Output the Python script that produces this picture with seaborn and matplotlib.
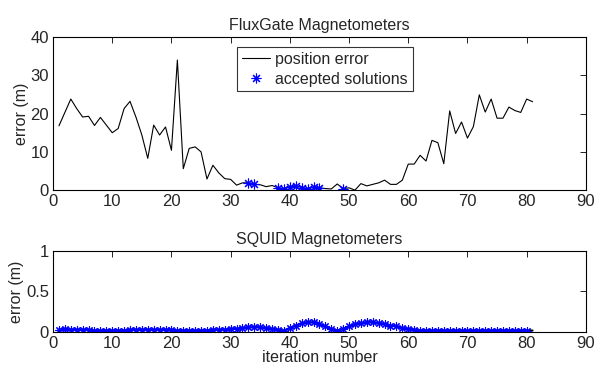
import numpy as np
import pandas as pd
import matplotlib
matplotlib.use('Agg')
import matplotlib.pyplot as plt
import seaborn as sns

# FluxGate position error per iteration (1..81)
flux_iter = list(range(1, 82))
flux_err = [16.8, 20.3, 23.8, 21.3, 19.1, 19.3, 16.9, 19.0, 17.0, 15.0,
            16.1, 21.3, 23.2, 19.1, 14.4, 8.3, 17.0, 14.4, 16.5, 10.4,
            34.0, 5.6, 10.9, 11.3, 10.0, 2.9, 6.5, 4.5, 3.0, 2.8,
            1.3, 1.9, 1.9, 1.5, 1.4, 0.9, 1.2, 0.6, 0.2, 0.9,
            1.2, 0.6, 0.4, 0.7, 0.6, 0.4, 0.3, 1.6, 0.4, 0.6,
            0.0, 1.7, 1.1, 1.5, 1.9, 2.6, 1.5, 1.5, 2.6, 6.8,
            6.8, 9.1, 7.6, 13.0, 12.4, 6.9, 20.7, 14.8, 17.8, 13.6,
            16.6, 24.9, 20.4, 23.8, 18.8, 18.8, 21.7, 20.8, 20.3, 23.8,
            23.1]
flux_accepted = [33, 34, 38, 39, 40, 41, 42, 43, 44, 45, 49]

# SQUID position error per iteration (1..81)
squid_iter = list(range(1, 82))
squid_err = [0.03, 0.04, 0.03, 0.03, 0.03, 0.03, 0.02, 0.02, 0.02, 0.02,
             0.02, 0.02, 0.03, 0.03, 0.03, 0.03, 0.03, 0.03, 0.03, 0.03,
             0.02, 0.02, 0.02, 0.02, 0.02, 0.02, 0.03, 0.03, 0.03, 0.04,
             0.04, 0.05, 0.06, 0.06, 0.06, 0.05, 0.04, 0.03, 0.02, 0.05,
             0.08, 0.11, 0.12, 0.12, 0.10, 0.07, 0.04, 0.02, 0.04, 0.07,
             0.10, 0.11, 0.12, 0.12, 0.11, 0.10, 0.08, 0.07, 0.05, 0.04,
             0.03, 0.02, 0.02, 0.02, 0.02, 0.02, 0.02, 0.02, 0.02, 0.02,
             0.02, 0.02, 0.02, 0.02, 0.02, 0.02, 0.02, 0.02, 0.02, 0.02,
             0.02]
squid_accepted = list(range(1, 81))

flux = pd.DataFrame({'iteration': flux_iter, 'error': flux_err})
flux_acc = flux[flux['iteration'].isin(flux_accepted)]
squid = pd.DataFrame({'iteration': squid_iter, 'error': squid_err})
squid_acc = squid[squid['iteration'].isin(squid_accepted)]

sns.set_theme(style='white')
plt.rcParams['font.family'] = ['Liberation Sans', 'DejaVu Sans']
plt.rcParams['font.size'] = 11

fig = plt.figure(figsize=(5.96, 3.67), dpi=100)
ax1 = fig.add_axes([0.089, 0.482, 0.894, 0.417])
ax2 = fig.add_axes([0.089, 0.095, 0.894, 0.222])

star = (8, 2, 0)

# Top: FluxGate
sns.lineplot(data=flux, x='iteration', y='error', ax=ax1, color='black',
             linewidth=0.8, label='position error')
ax1.plot(flux_acc['iteration'], flux_acc['error'], linestyle='none',
         marker=star, markersize=7, color='blue', markeredgewidth=0.8,
         label='accepted solutions')
ax1.set_xlim(0, 90)
ax1.set_ylim(0, 40)
ax1.set_xticks(range(0, 91, 10))
ax1.set_yticks(range(0, 41, 10))
ax1.set_title('FluxGate Magnetometers', fontsize=11.5, pad=5)
ax1.set_xlabel('')
ax1.set_ylabel('error (m)', fontsize=11.5, labelpad=1)
leg = ax1.legend(loc='upper center', bbox_to_anchor=(0.51, 0.935),
                 frameon=True, fancybox=False, edgecolor='black',
                 fontsize=11.5, handlelength=1.8, handletextpad=0.3,
                 borderpad=0.3, labelspacing=0.3, borderaxespad=0)
leg.get_frame().set_linewidth(0.8)

# Bottom: SQUID
sns.lineplot(data=squid, x='iteration', y='error', ax=ax2, color='black',
             linewidth=1.5)
ax2.plot(squid_acc['iteration'], squid_acc['error'], linestyle='-',
         linewidth=1.2, marker=star, markersize=6, color='blue',
         markeredgewidth=0.8)
ax2.set_xlim(0, 90)
ax2.set_ylim(0, 1)
ax2.set_xticks(range(0, 91, 10))
ax2.set_yticks([0, 0.5, 1])
ax2.set_yticklabels(['0', '0.5', '1'])
ax2.set_title('SQUID Magnetometers', fontsize=11.5, pad=5)
ax2.set_xlabel('iteration number', fontsize=11.5, labelpad=-1)
ax2.set_ylabel('error (m)', fontsize=11.5, labelpad=1)

for ax in (ax1, ax2):
    ax.tick_params(direction='in', top=True, right=True, length=4,
                   width=0.6, labelsize=12, color='black')
    ax.tick_params(axis='x', pad=3)
    ax.tick_params(axis='y', pad=3)
    for s in ax.spines.values():
        s.set_color('black')
        s.set_linewidth(0.8)

fig.savefig('out.png', dpi=100)
